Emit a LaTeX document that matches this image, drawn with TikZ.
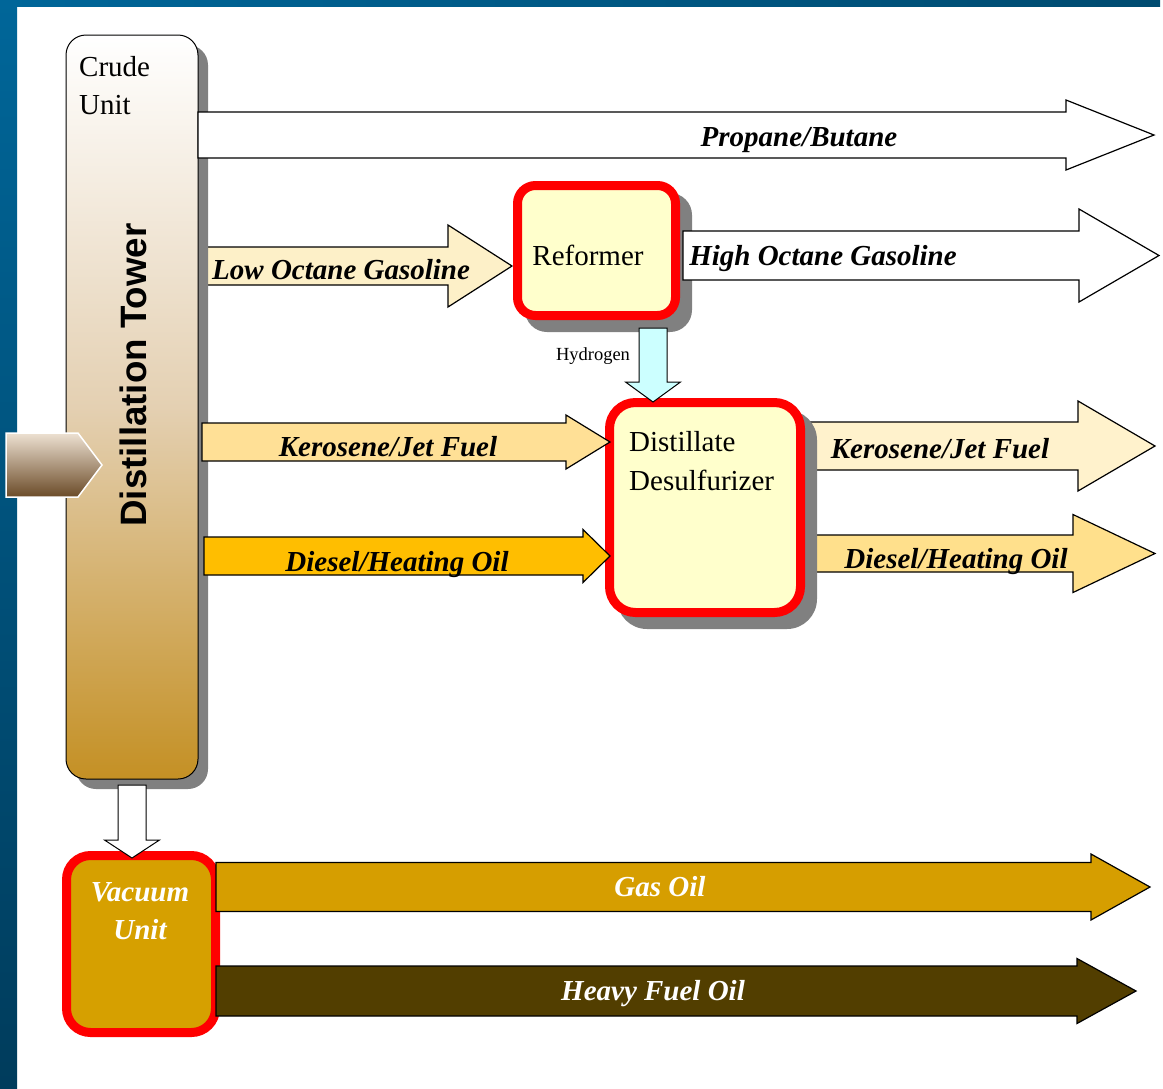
\documentclass[tikz,border=0pt]{standalone}
\usepackage{fontspec}
\setmainfont{Liberation Serif}
\newfontfamily\arialfont{Liberation Sans}
\definecolor{bluetop}{RGB}{0,102,153}
\definecolor{bluebot}{RGB}{0,60,92}
\definecolor{blueright}{RGB}{0,75,112}
\definecolor{shadowgray}{RGB}{128,128,128}
\definecolor{boxyellow}{RGB}{255,255,204}
\definecolor{crudebot}{RGB}{196,144,36}
\definecolor{crudemid}{RGB}{228,208,178}
\definecolor{inputtop}{RGB}{237,225,210}
\definecolor{inputbot}{RGB}{107,75,40}
\definecolor{lowoct}{RGB}{253,240,200}
\definecolor{keroin}{RGB}{255,224,150}
\definecolor{dieselin}{RGB}{255,190,0}
\definecolor{keroout}{RGB}{255,242,204}
\definecolor{dieselout}{RGB}{255,224,140}
\definecolor{hydro}{RGB}{204,255,255}
\definecolor{vacfill}{RGB}{214,160,0}
\definecolor{gasoil}{RGB}{214,158,0}
\definecolor{heavy}{RGB}{82,62,0}
\definecolor{redline}{RGB}{255,0,0}
\tikzset{
  blockarrow/.style={draw=black, line width=1.2pt, line join=miter},
  flowlabel/.style={font=\fontsize{29}{34}\selectfont\bfseries\itshape, inner sep=0pt, text height=24pt, text depth=4pt},
  boxtext/.style={font=\fontsize{29}{38}\selectfont, inner sep=0pt, text height=24pt, text depth=4pt},
  redbox/.style={draw=redline, line width=9pt, fill=boxyellow},
  shadowbox/.style={fill=shadowgray, draw=none},
}
% horizontal block arrow: style, x start, head base x, tip x, centre y, body half height, head half height
\newcommand\harrow[7]{%
  \path[#1] (#2,#5-#6) -- (#3,#5-#6) -- (#3,#5-#7) -- (#4,#5) -- (#3,#5+#7) -- (#3,#5+#6) -- (#2,#5+#6) -- cycle;}
% vertical block arrow: style, centre x, y start, head base y, tip y, body half width, head half width
\newcommand\varrow[7]{%
  \path[#1] (#2-#6,#3) -- (#2+#6,#3) -- (#2+#6,#4) -- (#2+#7,#4) -- (#2,#5) -- (#2-#7,#4) -- (#2-#6,#4) -- cycle;}
\begin{document}
\begin{tikzpicture}[x=1pt,y=-1pt]
\useasboundingbox (0,0) rectangle (1163,1088);
\fill[white] (0,0) rectangle (1163,1088);
% frame strips
\shade[left color=bluetop, right color=blueright] (0,0) rectangle (1160,6);
\shade[top color=bluetop, bottom color=bluebot] (0,0) rectangle (17,1088);

% low octane gasoline (behind crude shadow)
\harrow{blockarrow, fill=lowoct}{197}{448}{512}{266}{19}{41}

% crude unit
\path[shadowbox, rounded corners=20pt] (76,45) rectangle (208,789);
\node[draw=black, line width=1pt, rounded corners=20pt, minimum width=132pt, minimum height=744pt,
      top color=white, bottom color=crudebot, middle color=crudemid] (crude) at (132,407) {};
\node[boxtext, anchor=west] (crudet1) at (79,66) {Crude};
\node[boxtext, anchor=west] (crudet2) at (79,104) {Unit};
\node[rotate=90, font=\arialfont\fontsize{36.7}{40}\selectfont\bfseries, inner sep=0pt,
      text height=26pt, text depth=0pt] (towert) at (133,375) {Distillation Tower};

% feed arrow into crude unit
\path[shade, top color=inputtop, bottom color=inputbot, draw=white, line width=1.5pt]
  (6,433) -- (78,433) -- (102,465) -- (78,497) -- (6,497) -- cycle;

% propane / butane
\harrow{blockarrow, fill=white}{198}{1066}{1154}{135}{23}{35}
\node[flowlabel] (propl) at (799,136) {Propane/Butane};
\node[flowlabel, anchor=west] (lowl) at (212,269) {Low Octane Gasoline};

% outputs of desulfurizer (behind its shadow)
\harrow{blockarrow, fill=keroout}{805}{1078}{1155}{446}{24}{45}
\harrow{blockarrow, fill=dieselout}{805}{1073}{1155}{553.5}{18.5}{39}

% reformer
\path[shadowbox, rounded corners=22pt] (525,193) rectangle (692,332);
\node[redbox, rounded corners=18pt, minimum width=158pt, minimum height=130pt] (reformer) at (596.5,250.5) {};
\node[boxtext] (reformert) at (588,255) {Reformer};

% high octane gasoline
\harrow{blockarrow, fill=white}{683}{1079}{1159}{255.5}{24.5}{46.5}
\node[flowlabel] (highl) at (823,255) {High Octane Gasoline};

% desulfurizer
\path[shadowbox, rounded corners=30pt] (617,410) rectangle (817,629);
\node[redbox, rounded corners=26pt, minimum width=191pt, minimum height=210pt] (desulf) at (705,507.5) {};
\node[boxtext, anchor=west] (desulft1) at (629,441) {Distillate};
\node[boxtext, anchor=west] (desulft2) at (629,480) {Desulfurizer};

% hydrogen
\varrow{blockarrow, line width=1pt, fill=hydro}{653}{328}{382}{402}{14}{27.5}
\node[font=\fontsize{18.5}{20}\selectfont, inner sep=0pt, text height=14pt, text depth=3pt] (hydrol) at (593,355) {Hydrogen};

% inputs to desulfurizer
\harrow{blockarrow, fill=keroin}{202}{566}{610}{442}{19}{27}
\node[flowlabel] (keroinl) at (388,446) {Kerosene/Jet Fuel};
\harrow{blockarrow, fill=dieselin}{204}{583}{610}{556}{19}{26.5}
\node[flowlabel] (dieselinl) at (397,561) {Diesel/Heating Oil};

\node[flowlabel] (kerooutl) at (940,448) {Kerosene/Jet Fuel};
\node[flowlabel] (dieseloutl) at (956,558) {Diesel/Heating Oil};

% vacuum unit
\node[draw=redline, line width=9pt, fill=vacfill, rounded corners=24pt, minimum width=149pt, minimum height=177pt] (vacuum) at (141,944) {};
\node[flowlabel, text=white] (vact1) at (140,891) {Vacuum};
\node[flowlabel, text=white] (vact2) at (140,929) {Unit};

% crude -> vacuum
\varrow{blockarrow, line width=1pt, fill=white}{132}{785}{840}{858}{14}{27.5}

% gas oil and heavy fuel oil
\harrow{blockarrow, fill=gasoil}{216}{1091}{1150}{887}{24.5}{33}
\node[flowlabel, text=white] (gasl) at (660,886) {Gas Oil};
\harrow{blockarrow, fill=heavy}{216}{1077}{1136}{991}{25}{32.5}
\node[flowlabel, text=white] (heavyl) at (653,990) {Heavy Fuel Oil};
\end{tikzpicture}
\end{document}
